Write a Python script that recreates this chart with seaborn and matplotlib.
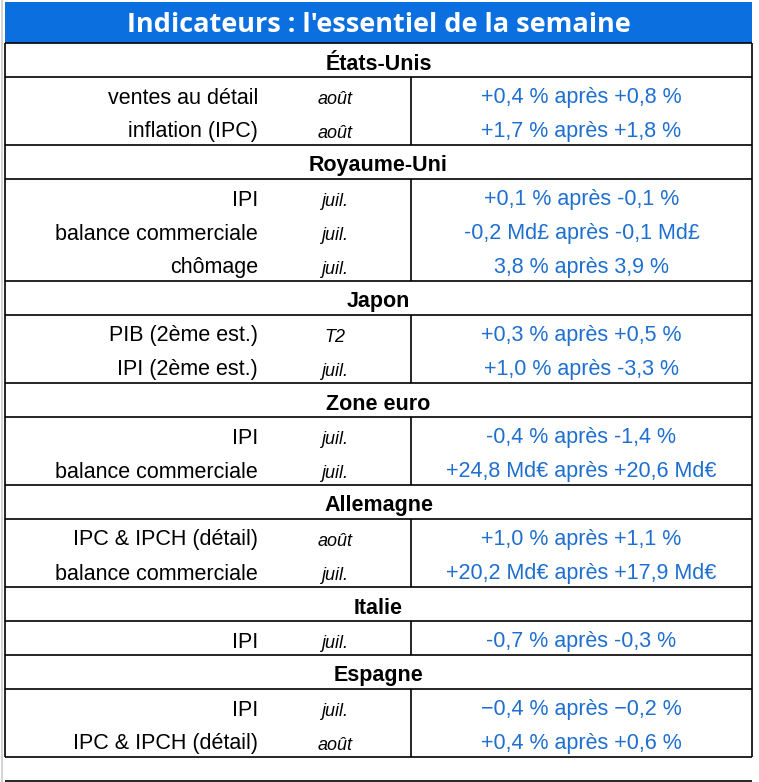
import matplotlib
matplotlib.use("Agg")
import matplotlib.pyplot as plt
import seaborn as sns

# Table content
title = "Indicateurs : l'essentiel de la semaine"
sections = ["États-Unis", "Royaume-Uni", "Japon", "Zone euro", "Allemagne", "Italie", "Espagne"]
rows_per_section = [2, 3, 2, 2, 2, 1, 2]
indicators = [
    "ventes au détail", "inflation (IPC)",
    "IPI", "balance commerciale", "chômage",
    "PIB (2ème est.)", "IPI (2ème est.)",
    "IPI", "balance commerciale",
    "IPC & IPCH (détail)", "balance commerciale",
    "IPI",
    "IPI", "IPC & IPCH (détail)",
]
periods = [
    "août", "août",
    "juil.", "juil.", "juil.",
    "T2", "juil.",
    "juil.", "juil.",
    "août", "juil.",
    "juil.",
    "juil.", "août",
]
values = [
    "+0,4 % après +0,8 %", "+1,7 % après +1,8 %",
    "+0,1 % après -0,1 %", "-0,2 Md£ après -0,1 Md£", "3,8 % après 3,9 %",
    "+0,3 % après +0,5 %", "+1,0 % après -3,3 %",
    "-0,4 % après -1,4 %", "+24,8 Md€ après +20,6 Md€",
    "+1,0 % après +1,1 %", "+20,2 Md€ après +17,9 Md€",
    "-0,7 % après -0,3 %",
    "\u22120,4 % après \u22120,2 %", "+0,4 % après +0,6 %",
]

# Colours
title_bg = "#0B6FDF"
value_color = "#1E6FD0"

sns.set_theme(style="white")
plt.rcParams["font.family"] = ["Liberation Sans", "DejaVu Sans"]

W, H = 759, 782
fig = plt.figure(figsize=(W / 100, H / 100), dpi=100)
ax = fig.add_axes([0, 0, 1, 1])
ax.set_xlim(0, W)
ax.set_ylim(H, 0)
ax.axis("off")

# Layout (pixels)
x_left, x_right, x_div = 5, 752, 411
title_top, top = 2, 43
row_h = 34
lw = 1.2

# Title bar
ax.add_patch(plt.Rectangle((x_left, title_top), x_right - x_left, top - title_top,
                           facecolor=title_bg, edgecolor="none"))
ax.text((x_left + x_right) / 2, (title_top + top) / 2 + 3, title, color="white",
        fontsize=19.5, fontweight="bold", family=["Open Sans", "DejaVu Sans"],
        ha="center", va="center")

# Sections and rows
y = top
i = 0
ax.hlines(y, x_left, x_right, color="black", lw=lw)
for sec, n in zip(sections, rows_per_section):
    ax.text((x_left + x_right) / 2, y + row_h / 2 + 4, sec, fontsize=15.5,
            fontweight="bold", ha="center", va="center", color="black")
    y += row_h
    ax.hlines(y, x_left, x_right, color="black", lw=lw)
    block_top = y
    for _ in range(n):
        cy = y + row_h / 2 + 4
        ax.text(258, cy, indicators[i], fontsize=15.5, ha="right", va="center", color="black")
        ax.text(335, cy + 1, periods[i], fontsize=13, style="italic", ha="center",
                va="center", color="black")
        ax.text((x_div + x_right) / 2, cy, values[i], fontsize=15.5, ha="center",
                va="center", color=value_color)
        y += row_h
        i += 1
    ax.vlines(x_div, block_top, y, color="black", lw=lw)
    ax.hlines(y, x_left, x_right, color="black", lw=lw)

ax.vlines([x_left, x_right], top, y, color="black", lw=lw)

# extra rule under table and faint page edge
ax.hlines(781, x_left, x_right, color="black", lw=lw)
ax.vlines(1.5, 0, H, color="#cccccc", lw=1.2)

fig.savefig("out.png", dpi=100)
